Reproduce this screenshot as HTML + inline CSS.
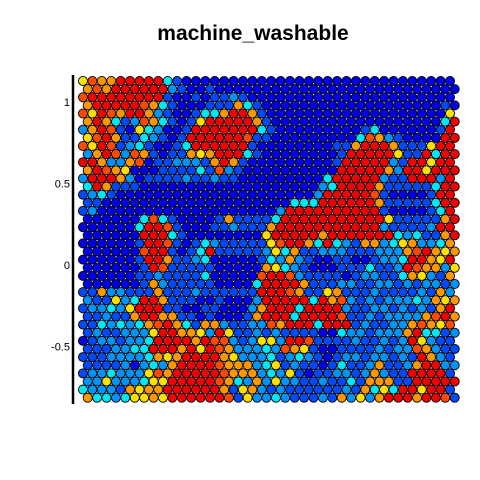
<!DOCTYPE html>
<html><head><meta charset="utf-8"><style>
html,body{margin:0;padding:0;background:#fff;width:480px;height:480px;overflow:hidden}
svg{display:block}
</style></head><body>
<svg id="chart" width="480" height="480" xmlns="http://www.w3.org/2000/svg">
<rect width="480" height="480" fill="#fff"/>
<text x="253" y="40" text-anchor="middle" font-family="Liberation Sans, sans-serif" font-weight="bold" font-size="21">machine_washable</text>
<line x1="73" y1="75" x2="73" y2="404" stroke="#000" stroke-width="2.5"/>
<g id="ticks"></g>
<g id="cells"></g>
</svg>
<script>
const yTicks = [1, 0.5, 0, -0.5];
const yTickLabels = ["1", "0.5", "0", "-0.5"];
const palette = ["#0000E8", "#0048F8", "#0094F8", "#00E8F8", "#FFE000", "#FF9800", "#FF4800", "#F00000"];
const cellLevels = [
"46557777731000000000000000000000000000000",
"5657777772100100000000000000000000000000",
"6777777771001011210000000000000000000000",
"5777776531000111531000000000000000000010",
"6476577521001335775100000000000000000004",
"5753126531014777775100000000000000000037",
"2576104320017777777310000000001300000017",
"4675113210177777761100000000036521000077",
"6476123100137777771000000001157775111477",
"2576265101154577731000000001777774117377",
"7752256011222157510000000001777772177477",
"5765400011113162100000000007777752774777",
"2777520111121121100000000037777721177727",
"3751110000000000000000000237777511111377",
"1231000000000000000000000277777610000177",
"1100000000000000000000333777777511111377",
"1200000000000000000002777777777710000137",
"0000003631000015111137777777777741111157",
"0000003776100011211157777777777721111277",
"0000007773100000000477777577777773231157",
"0000001776101321111146775373215523452235",
"0000006771013711111243511222111222567545",
"0000001775112300000132521001100122377547",
"0000001761111100000543210001113112765524",
"0000001121111300000677621111012211354215",
"0000001521111100003777751112211221212212",
"1152211151112111111777651145111211112152",
"2114237751110010002777773756212122232545",
"1223247771100110002577737777211221212157",
"1121157755110100015777377776112122225675",
"1132323567531552112265777377712112256546",
"1211222477554274112121111003221222573312",
"0122122377775766212442776111121121274211",
"1112233777574765222326541001111212265211",
"1112222354577775422231232101221221217521",
"1111202325777765552341211013112511257722",
"1223222465777776555232410112212521177771",
"2242223447777765325242211211315551177777",
"3222154557777775145212111111215343774771",
"5332344547777776142232111215242577757761"
];
const nCols = 40, nRows = 40;
const x0 = 83, dx = 9.41, y0 = 81, dy = 8.12, r = 4.55;
function xPos(c, rw) { return x0 + dx * c + (rw % 2 === 1 ? dx / 2 : 0); }
function yPos(rw) { return y0 + dy * rw; }
function yScale(v) { return 265 - 163 * v; }
const NS = "http://www.w3.org/2000/svg";
const tg = document.getElementById("ticks");
yTicks.forEach((v, i) => {
  const t = document.createElementNS(NS, "text");
  t.setAttribute("x", 70);
  t.setAttribute("y", yScale(v) + 4);
  t.setAttribute("text-anchor", "end");
  t.setAttribute("font-family", "Liberation Sans, sans-serif");
  t.setAttribute("font-size", "11");
  t.textContent = yTickLabels[i];
  
  
  tg.appendChild(t);
});
const cg = document.getElementById("cells");
for (let rw = 0; rw < nRows; rw++) {
  const s = cellLevels[rw];
  for (let c = 0; c < nCols; c++) {
    const lv = parseInt(s[c] || "0", 10);
    const ci = document.createElementNS(NS, "circle");
    ci.setAttribute("cx", xPos(c, rw).toFixed(2));
    ci.setAttribute("cy", yPos(rw).toFixed(2));
    ci.setAttribute("r", r);
    ci.setAttribute("fill", palette[lv]);
    ci.setAttribute("stroke", "#000");
    ci.setAttribute("stroke-width", "0.9");
    
    
    cg.appendChild(ci);
  }
}
</script>
</body></html>
